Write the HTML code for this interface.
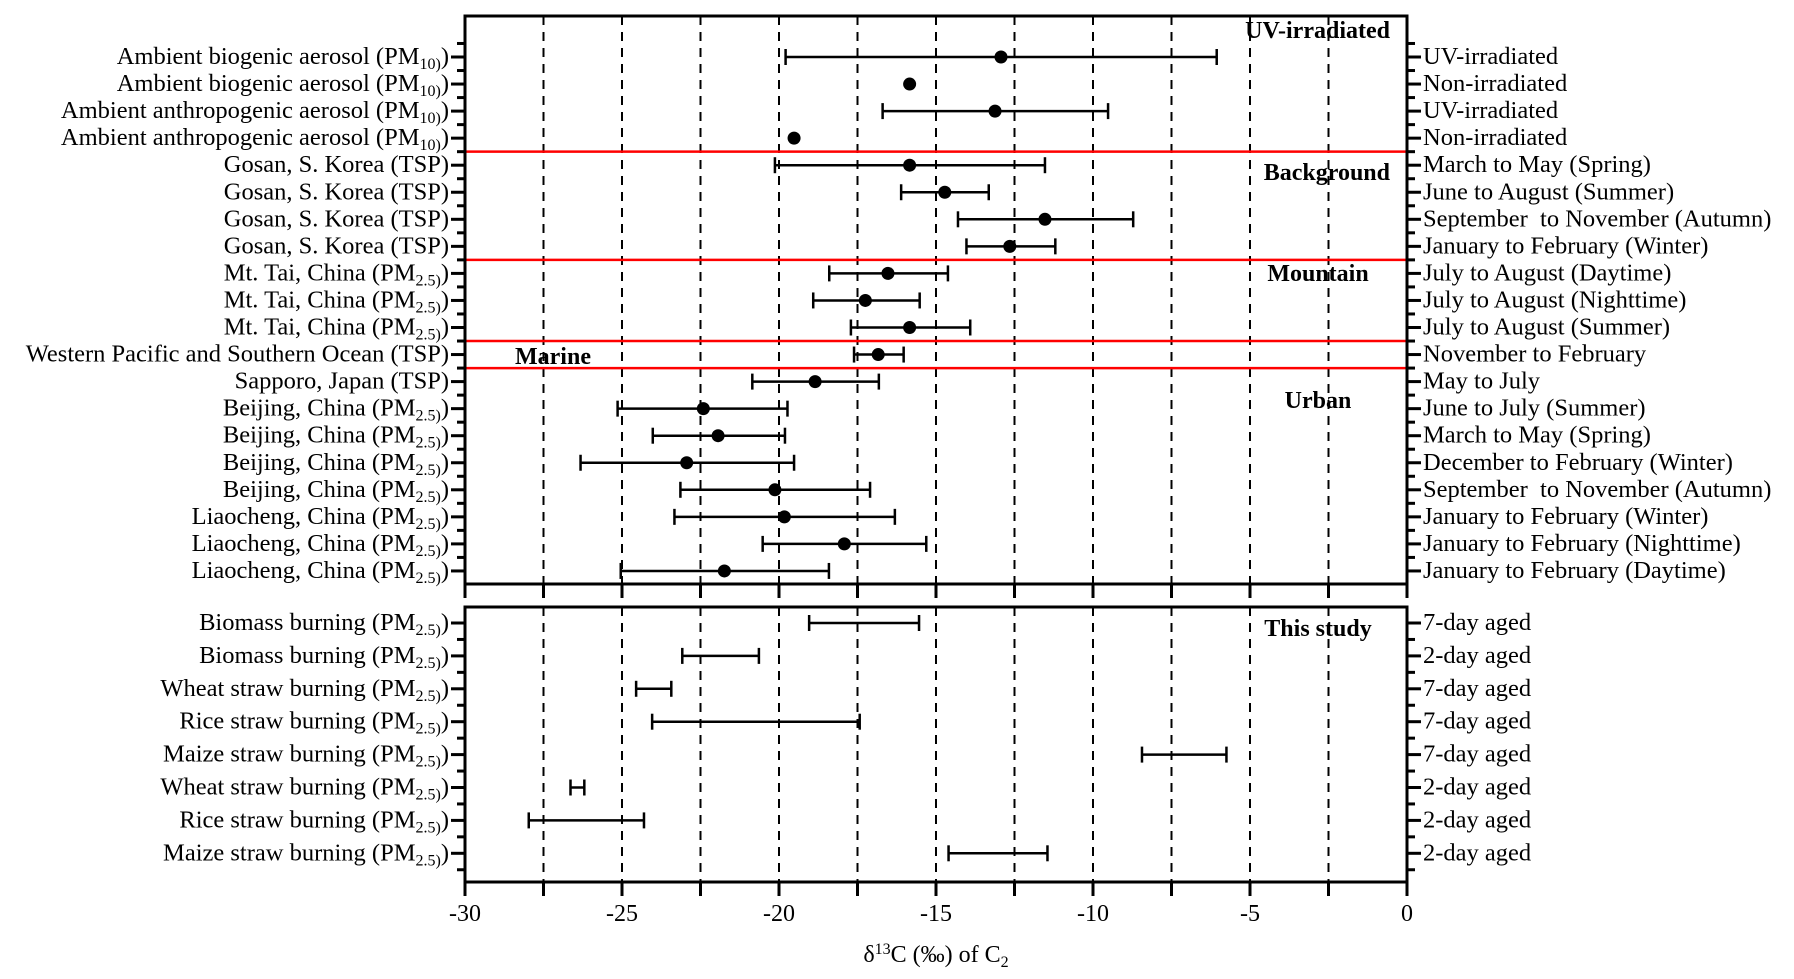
<!DOCTYPE html>
<html><head><meta charset="utf-8"><style>
html,body{margin:0;padding:0;background:#fff;}
svg{display:block;font-family:"Liberation Serif",serif;}
text{white-space:pre;}
</style></head><body>
<svg id="chart" width="1794" height="979" viewBox="0 0 1794 979" xmlns="http://www.w3.org/2000/svg"></svg>
<script>
const upperLabels=["Ambient biogenic aerosol (PM|10)","Ambient biogenic aerosol (PM|10)","Ambient anthropogenic aerosol (PM|10)","Ambient anthropogenic aerosol (PM|10)","Gosan, S. Korea (TSP)","Gosan, S. Korea (TSP)","Gosan, S. Korea (TSP)","Gosan, S. Korea (TSP)","Mt. Tai, China (PM|2.5)","Mt. Tai, China (PM|2.5)","Mt. Tai, China (PM|2.5)","Western Pacific and Southern Ocean (TSP)","Sapporo, Japan (TSP)","Beijing, China (PM|2.5)","Beijing, China (PM|2.5)","Beijing, China (PM|2.5)","Beijing, China (PM|2.5)","Liaocheng, China (PM|2.5)","Liaocheng, China (PM|2.5)","Liaocheng, China (PM|2.5)"];
const upperRight=["UV-irradiated","Non-irradiated","UV-irradiated","Non-irradiated","March to May (Spring)","June to August (Summer)","September  to November (Autumn)","January to February (Winter)","July to August (Daytime)","July to August (Nighttime)","July to August (Summer)","November to February","May to July","June to July (Summer)","March to May (Spring)","December to February (Winter)","September  to November (Autumn)","January to February (Winter)","January to February (Nighttime)","January to February (Daytime)"];
const upperMean=[-12.93,-15.84,-13.12,-19.52,-15.84,-14.72,-11.53,-12.65,-16.53,-17.25,-15.84,-16.84,-18.85,-22.41,-21.94,-22.94,-20.13,-19.83,-17.92,-21.74];
const upperLow=[-19.79,null,-16.70,null,-20.13,-16.11,-14.30,-14.03,-18.40,-18.91,-17.71,-17.61,-20.85,-25.14,-24.02,-26.32,-23.14,-23.33,-20.52,-25.04];
const upperHigh=[-6.06,null,-9.52,null,-11.53,-13.32,-8.72,-11.20,-14.62,-15.52,-13.91,-16.03,-16.82,-19.73,-19.81,-19.52,-17.10,-16.31,-15.31,-18.41];
const lowerLabels=["Biomass burning (PM|2.5)","Biomass burning (PM|2.5)","Wheat straw burning (PM|2.5)","Rice straw burning (PM|2.5)","Maize straw burning (PM|2.5)","Wheat straw burning (PM|2.5)","Rice straw burning (PM|2.5)","Maize straw burning (PM|2.5)"];
const lowerRight=["7-day aged","2-day aged","7-day aged","7-day aged","7-day aged","2-day aged","2-day aged","2-day aged"];
const lowerLow=[-19.04,-23.08,-24.55,-24.04,-8.44,-26.64,-27.97,-14.60];
const lowerHigh=[-15.54,-20.64,-23.43,-17.43,-5.75,-26.20,-24.30,-11.45];
const xTicks=[-30,-25,-20,-15,-10,-5,0];
const gridVals=[-27.5,-25,-22.5,-20,-17.5,-15,-12.5,-10,-7.5,-5,-2.5];
const dividerAfter=[3,7,10,11];

const svg=document.getElementById('chart');
const NS='http://www.w3.org/2000/svg';
const X0=465,X1=1407,XMIN=-30,XMAX=0;
const UT=16,UB=584,LT=607,LB=882;
const FS=24.5;
function xs(v){return X0+(v-XMIN)/(XMAX-XMIN)*(X1-X0);}
function yU(i){return 57+i*27.05;}
function yL(i){return 623+i*32.9;}
function mk(tag,at,parent){const e=document.createElementNS(NS,tag);for(const k in at)e.setAttribute(k,at[k]);(parent||svg).appendChild(e);return e;}
function line(x1,y1,x2,y2,st,w,dash,parent){return mk('line',{x1:x1,y1:y1,x2:x2,y2:y2,stroke:st,'stroke-width':w,'stroke-dasharray':dash||'none'},parent);}
function label(txt,x,y,anchor,parent){
  const t=mk('text',{x:x,y:y,'font-size':FS,'text-anchor':anchor,fill:'#000'},parent);
  const parts=txt.split('|');
  if(parts.length===1){t.textContent=txt;return t;}
  const a=mk('tspan',{},t);a.textContent=parts[0];
  const b=mk('tspan',{'font-size':16,dy:5},t);b.textContent=parts[1];
  const c=mk('tspan',{dy:-5},t);c.textContent=')';
  return t;
}

const grid=mk('g',{});


gridVals.forEach(v=>{
  line(xs(v),UT,xs(v),UB,'#000',2,'9,7',grid);
  line(xs(v),LT,xs(v),LB,'#000',2,'9,7',grid);
});
const div=mk('g',{});


dividerAfter.forEach(i=>{line(X0,(yU(i)+yU(i+1))/2,X1,(yU(i)+yU(i+1))/2,'#ff0000',2.5,null,div);});

function panel(top,bottom,n,yf,name){
  const g=mk('g',{});
  
  
  mk('rect',{x:X0,y:top,width:X1-X0,height:bottom-top,fill:'none',stroke:'#000','stroke-width':3},g);
  const step=yf(1)-yf(0);
  for(let k=-1;k<=2*n;k++){
    const y=yf(0)+k*step/2;
    if(y<=top+3||y>=bottom-3)continue;
    const L=(k%2===0)?14:8;
    line(X0-L,y,X0,y,'#000',3,null,g);
    line(X1,y,X1+L,y,'#000',3,null,g);
  }
  gridVals.concat(xTicks).forEach(v=>{line(xs(v),bottom,xs(v),bottom+14,'#000',3,null,g);});
}
panel(UT,UB,20,yU,'upper-panel');
panel(LT,LB,8,yL,'lower-panel');

upperLabels.forEach((t,i)=>{
  const e=label(t,449,yU(i)+7,'end');
  
  
});
upperRight.forEach((t,i)=>{
  const e=label(t,1423,yU(i)+7,'start');
  
  
});
lowerLabels.forEach((t,i)=>{
  const e=label(t,449,yL(i)+7,'end');
  
  
});
lowerRight.forEach((t,i)=>{
  const e=label(t,1423,yL(i)+7,'start');
  
  
});

upperMean.forEach((m,i)=>{
  const y=yU(i);
  if(upperLow[i]!==null){
    const g=mk('g',{});
    
    
    line(xs(upperLow[i]),y,xs(upperHigh[i]),y,'#000',2.5,null,g);
    line(xs(upperLow[i]),y-8,xs(upperLow[i]),y+8,'#000',2.5,null,g);
    line(xs(upperHigh[i]),y-8,xs(upperHigh[i]),y+8,'#000',2.5,null,g);
  }
  const c=mk('circle',{cx:xs(m),cy:y,r:6.5,fill:'#000'});
  
  
});
lowerLow.forEach((lo,i)=>{
  const y=yL(i);
  const g=mk('g',{});
  
  
  line(xs(lo),y,xs(lowerHigh[i]),y,'#000',2.5,null,g);
  line(xs(lo),y-8,xs(lo),y+8,'#000',2.5,null,g);
  line(xs(lowerHigh[i]),y-8,xs(lowerHigh[i]),y+8,'#000',2.5,null,g);
});

xTicks.forEach(v=>{
  const t=mk('text',{x:xs(v),y:921,'font-size':24,'text-anchor':'middle'});
  t.textContent=String(v);
  
  
});
const at=mk('text',{x:936,y:962,'font-size':24,'text-anchor':'middle'});


const a1=mk('tspan',{},at);a1.textContent='δ';
const a2=mk('tspan',{'font-size':16,dy:-8},at);a2.textContent='13';
const a3=mk('tspan',{dy:8},at);a3.textContent='C (‰) of C';
const a4=mk('tspan',{'font-size':16,dy:5},at);a4.textContent='2';

[['UV-irradiated',1390,38,'end'],['Background',1390,180,'end'],['Mountain',1318,281,'middle'],['Marine',553,364,'middle'],['Urban',1318,408,'middle'],['This study',1318,636,'middle']].forEach(g=>{
  const t=mk('text',{x:g[1],y:g[2],'font-size':24,'font-weight':'bold','text-anchor':g[3]});
  t.textContent=g[0];
  
  
});
</script>
</body></html>
